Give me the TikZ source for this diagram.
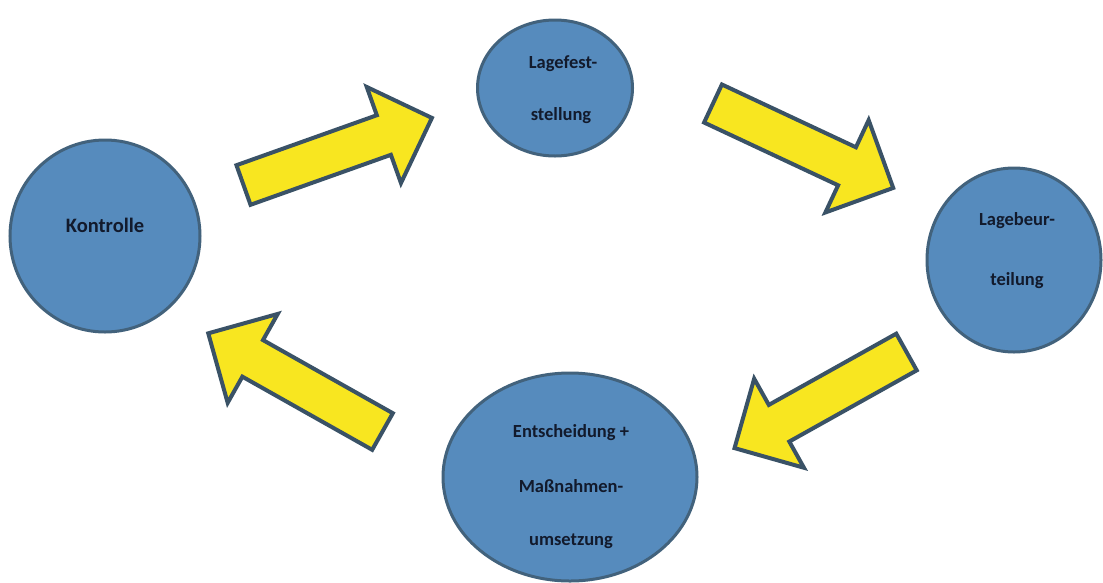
\documentclass[tikz,border=0pt]{standalone}
\usepackage{fontspec}
\setmainfont{Carlito}
\usetikzlibrary{shapes.geometric}
\definecolor{circfill}{RGB}{86,139,189}
\definecolor{circline}{RGB}{66,98,124}
\definecolor{arrfill}{RGB}{248,230,32}
\definecolor{arrline}{RGB}{58,82,102}
\definecolor{txt}{RGB}{18,26,44}
\tikzset{
  phase/.style={ellipse, draw=circline, line width=3pt, fill=circfill, inner sep=0pt},
  lbl/.style={anchor=base, text=txt, font=\fontsize{18.5}{22}\selectfont\bfseries, inner sep=0pt},
  biglbl/.style={lbl, font=\fontsize{20.5}{24}\selectfont\bfseries},
  arrowstyle/.style={draw=arrline, line width=4pt, fill=arrfill, line join=miter},
  blockarrow/.pic={
    \path[arrowstyle] (0,-21) -- (#1-51,-21) -- (#1-51,-51) -- (#1,0) -- (#1-51,51) -- (#1-51,21) -- (0,21) -- cycle;
  }
}
\begin{document}
\begin{tikzpicture}[x=1pt,y=-1pt]
\useasboundingbox[fill=white] (0,0) rectangle (1103,582);
% phases
\node[phase, minimum width=190pt, minimum height=192pt] (k) at (105,236) {};
\node[phase, minimum width=155pt, minimum height=136pt] (lf) at (555,88) {};
\node[phase, minimum width=174pt, minimum height=184pt] (lb) at (1014,260) {};
\node[phase, minimum width=254pt, minimum height=208pt] (em) at (570,477) {};
% labels
\node[biglbl] (kt) at (105,232) {Kontrolle};
\node[lbl] (lf1) at (563,68) {Lagefest-};
\node[lbl] (lf2) at (561,120) {stellung};
\node[lbl] (lb1) at (1017,225) {Lagebeur-};
\node[lbl] (lb2) at (1017,285) {teilung};
\node[lbl] (em1) at (571,437) {Entscheidung +};
\node[lbl] (em2) at (571,492) {Maßnahmen-};
\node[lbl] (em3) at (571,545) {umsetzung};
% arrows
\coordinate (a1) at (243.5,185);
\coordinate (a2) at (713,103.5);
\coordinate (a3) at (906.5,352);
\coordinate (a4) at (382.5,431.5);
\pic[rotate=19.6] at (a1) {blockarrow=200};
\pic[rotate=-25.1] at (a2) {blockarrow=199};
\pic[rotate=209.2] at (a3) {blockarrow=197};
\pic[rotate=150.6] at (a4) {blockarrow=200};
\end{tikzpicture}
\end{document}
